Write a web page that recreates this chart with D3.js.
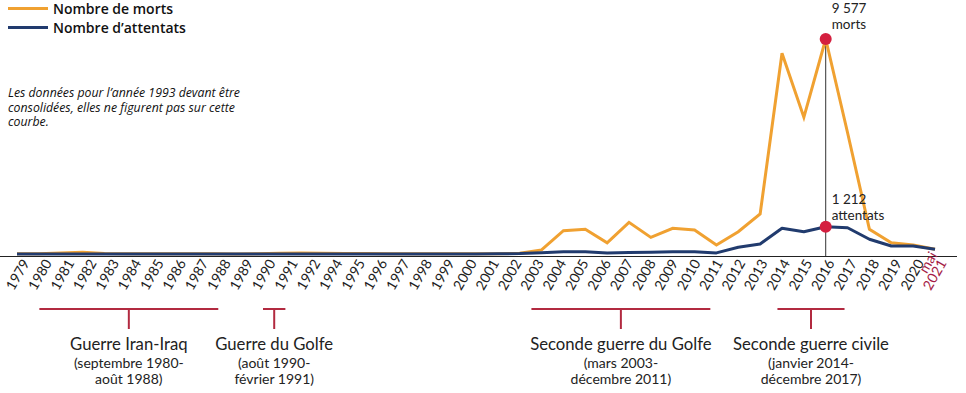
<!DOCTYPE html>
<html>
<head>
<meta charset="utf-8">
<script src="https://cdn.jsdelivr.net/npm/d3@7"></script>
<style>
  body { margin: 0; background: #fff; }
  svg { display: block; font-family: Lato, "Open Sans", sans-serif; }
</style>
</head>
<body>
<svg id="chart" width="966" height="393"></svg>
<script>
// years plotted (1993 is missing from the source data)
const years = [1979,1980,1981,1982,1983,1984,1985,1986,1987,1988,1989,1990,1991,1992,
  1994,1995,1996,1997,1998,1999,2000,2001,2002,2003,2004,2005,2006,2007,2008,2009,
  2010,2011,2012,2013,2014,2015,2016,2017,2018,2019,2020,2021];
const tickLabels = years.map(String);
tickLabels[tickLabels.length - 1] = "mai 2021";

const morts = [10,15,40,80,20,10,15,10,10,10,5,10,30,40,
  20,20,15,10,10,10,10,15,30,180,1040,1100,500,1410,740,1145,
  1070,400,990,1780,8940,6090,9577,5400,1100,500,400,210];
const attentats = [5,5,5,5,5,5,5,5,5,5,5,5,5,5,
  5,5,5,5,5,5,5,10,20,55,100,100,40,65,80,95,
  105,50,300,445,1150,995,1212,1170,655,355,355,210];

const wars = [
  {name: "Guerre Iran-Iraq", from: "1980", to: "1988", dates: ["(septembre 1980-", "août 1988)"]},
  {name: "Guerre du Golfe", from: "1990", to: "1991", dates: ["(août 1990-", "février 1991)"]},
  {name: "Seconde guerre du Golfe", from: "2003", to: "2011", dates: ["(mars 2003-", "décembre 2011)"]},
  {name: "Seconde guerre civile", from: "2014", to: "2017", dates: ["(janvier 2014-", "décembre 2017)"]}
];

const orange = "#f0a131", navy = "#213b6e", red = "#d41f3f", maroon = "#a51d46", bracket = "#b22a40";

const svg = d3.select("#chart");

let x = d3.scaleLinear().domain([1979, 2021]).range([17, 935]);
let y = d3.scaleLinear().domain([0, 10000]).range([254, 29.5]);
let xl = d3.scalePoint().domain(tickLabels).range([17, 934]);

// axis line
svg.append("line").attr("x1", 0).attr("x2", 957).attr("y1", 256.5).attr("y2", 256.5)
  .attr("stroke", "#222").attr("stroke-width", 1);

// tick labels, rotated
let lab = svg.append("g").selectAll("text").data(tickLabels).join("text")
  .attr("transform", d => "translate(" + (xl(d) + 13) + ",263) rotate(-60)")
  .attr("text-anchor", "end")
  .attr("font-size", 14)
  .attr("fill", d => d == "mai 2021" ? maroon : "#222");
lab.each(function(d){
  let t = d3.select(this);
  if (d == "mai 2021") {
    t.append("tspan").attr("x", 2).attr("dy", "-0.85em").text("mai");
    t.append("tspan").attr("x", 0).attr("dy", "0.85em").text("2021");
  } else {
    t.text(d);
  }
});

// marker line at 2016
let iPeak = years.indexOf(2016);
svg.append("line")
  .attr("x1", x(2016)).attr("x2", x(2016))
  .attr("y1", y(morts[iPeak])).attr("y2", 256)
  .attr("stroke", "#333").attr("stroke-width", 1);

let line = d3.line().x((d, i) => x(years[i])).y(d => y(d));
svg.append("path").datum(morts).attr("d", line)
  .attr("fill", "none").attr("stroke", orange).attr("stroke-width", 3).attr("stroke-linejoin", "miter");
svg.append("path").datum(attentats).attr("d", line)
  .attr("fill", "none").attr("stroke", navy).attr("stroke-width", 3).attr("stroke-linejoin", "round");

// peak dots
[morts[iPeak], attentats[iPeak]].forEach(function(v){
  svg.append("circle").attr("cx", x(2016)).attr("cy", y(v)).attr("r", 6).attr("fill", red);
});

// peak annotations
function note(lines, yy){
  let t = svg.append("text").attr("x", x(2016) + 6).attr("y", yy)
    .attr("font-size", 13.5).attr("fill", "#222");
  lines.forEach(function(l, i){
    t.append("tspan").attr("x", x(2016) + 6).attr("dy", i == 0 ? 0 : 16).text(l);
  });
}
note([d3.format(",")(morts[iPeak]).replace(",", "\u202f"), "morts"], 13);
note([d3.format(",")(attentats[iPeak]).replace(",", "\u202f"), "attentats"], 204);

// legend
let legend = [{label: "Nombre de morts", color: orange}, {label: "Nombre d\u2019attentats", color: navy}];
legend.forEach(function(l, i){
  let ly = 8.5 + i * 19;
  svg.append("line").attr("x1", 8).attr("x2", 48).attr("y1", ly).attr("y2", ly)
    .attr("stroke", l.color).attr("stroke-width", 3);
  svg.append("text").attr("x", 53).attr("y", ly + 5.5).attr("font-size", 14)
    .attr("font-family", "'Open Sans', sans-serif")
    .attr("font-weight", 600).attr("fill", "#111").text(l.label);
});

// note about 1993
let noteLines = ["Les données pour l\u2019année 1993 devant être",
  "consolidées, elles ne figurent pas sur cette", "courbe."];
svg.append("g").selectAll("text").data(noteLines).join("text")
  .attr("x", 8).attr("y", (d, i) => 97 + i * 14.5)
  .attr("font-size", 12.3).attr("font-style", "italic").attr("fill", "#111")
  .attr("font-family", "'Open Sans', sans-serif")
  .text(d => d);

// war brackets
wars.forEach(function(w){
  let x1 = xl(w.from), x2 = xl(w.to), xm = (x1 + x2) / 2;
  svg.append("line").attr("x1", x1).attr("x2", x2).attr("y1", 309).attr("y2", 309)
    .attr("stroke", bracket).attr("stroke-width", 2);
  svg.append("line").attr("x1", xm).attr("x2", xm).attr("y1", 309).attr("y2", 329)
    .attr("stroke", bracket).attr("stroke-width", 2);
  svg.append("text").attr("x", xm).attr("y", 350).attr("text-anchor", "middle")
    .attr("font-size", 16.7).attr("fill", "#222").text(w.name);
  w.dates.forEach(function(d, i){
    svg.append("text").attr("x", xm).attr("y", 368 + i * 16).attr("text-anchor", "middle")
      .attr("font-size", 14).attr("fill", "#222").text(d);
  });
});
</script>
</body>
</html>
